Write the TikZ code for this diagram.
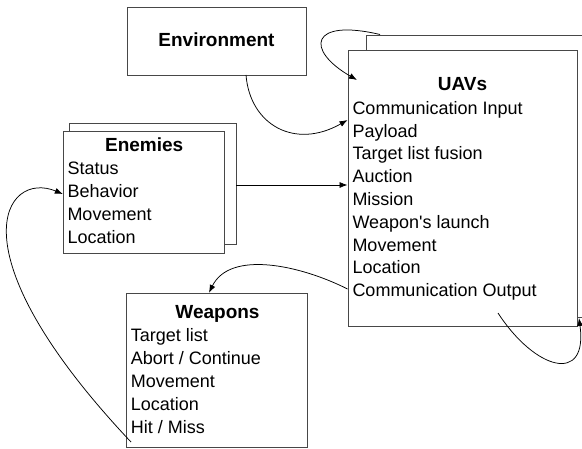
\documentclass[tikz,border=0pt]{standalone}
\usepackage{fontspec}
\setmainfont{Liberation Sans}
\usetikzlibrary{arrows.meta}
\begin{document}
\begin{tikzpicture}[x=1pt,y=-1pt,
  box/.style={draw=black!72, line width=0.9pt, fill=white, inner sep=0pt},
  ttl/.style={font=\fontsize{19}{22}\selectfont\bfseries, inner sep=0pt, anchor=base},
  item/.style={font=\fontsize{18}{22}\selectfont, inner sep=0pt, anchor=base west},
  conn/.style={draw=black, line width=0.75pt, -{Latex[length=8pt,width=6pt]}}]
\useasboundingbox (0,0) rectangle (582,449);
\begin{scope}
\clip (0,0) rectangle (582,449);
% Environment
\node[box, minimum width=179pt, minimum height=68pt] (env) at (216.5,41) {};
\node[ttl] (envt) at (216.5,47) {Environment};
% UAVs
\node[box, minimum width=229pt, minimum height=282pt] (uavb) at (480.5,176) {};
\node[box, minimum width=229pt, minimum height=276pt] (uavf) at (462.5,188) {};
\node[ttl] (uavt) at (462.5,90.7) {UAVs};
\foreach \t [count=\i] in {Communication Input, Payload, Target list fusion, Auction, Mission, Weapon\textquotesingle s launch, Movement, Location, Communication Output}
  \node[item] (uav\i) at (352.3,{114.3+22.8*(\i-1)}) {\t};
% Enemies
\node[box, minimum width=167pt, minimum height=121pt] (enb) at (152.5,183.5) {};
\node[box, minimum width=161pt, minimum height=121.5pt] (enf) at (143.8,192.5) {};
\node[ttl] (ent) at (144.2,151.7) {Enemies};
\foreach \t [count=\i] in {Status, Behavior, Movement, Location}
  \node[item] (en\i) at (67.3,{175+23*(\i-1)}) {\t};
% Weapons
\node[box, minimum width=181pt, minimum height=154pt] (wpn) at (216.7,370.3) {};
\node[ttl] (wpnt) at (217.5,318.3) {Weapons};
\foreach \t [count=\i] in {Target list, Abort / Continue, Movement, Location, Hit / Miss}
  \node[item] (wpn\i) at (130.7,{341.7+22.9*(\i-1)}) {\t};
% connectors
\coordinate (envout) at (246,75);
\coordinate (loopin) at (357,80);
\coordinate (loopout) at (380,34.5);
\coordinate (uavout) at (498,313);
\coordinate (uavret) at (579,318);
\coordinate (wpnout) at (131,442);
\draw[conn] (envout) .. controls (250,125) and (295,150) .. (uavf.west |- 0,120);
\draw[conn] (loopout) .. controls (310,18) and (305,50) .. (loopin);
\draw[conn] (enb.east |- 0,185) -- (uavf.west |- 0,185);
\draw[conn] (uavf.west |- 0,289) .. controls (300,265) and (230,250) .. (wpn.north west -| 209,0);
\draw[conn] (wpnout) .. controls (-50,250) and (5,170) .. (enf.west |- 0,194);
\draw[conn] (uavout) .. controls (535,370) and (588,385) .. (uavret);
\end{scope}
\end{tikzpicture}
\end{document}
